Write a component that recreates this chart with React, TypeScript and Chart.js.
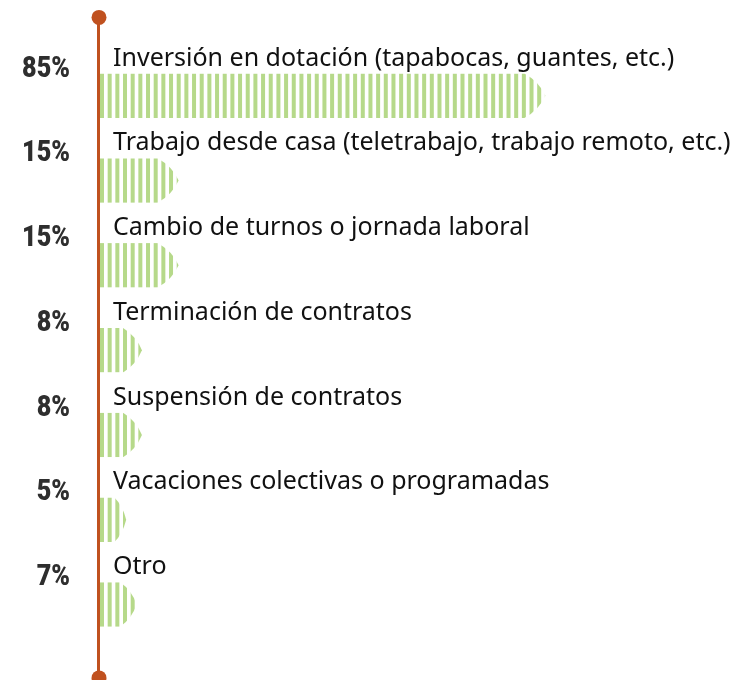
import React, { useEffect, useRef } from "react";
import { Chart, registerables } from "chart.js";

Chart.register(...registerables);

const categories = [
  "Inversión en dotación (tapabocas, guantes, etc.)",
  "Trabajo desde casa (teletrabajo, trabajo remoto, etc.)",
  "Cambio de turnos o jornada laboral",
  "Terminación de contratos",
  "Suspensión de contratos",
  "Vacaciones colectivas o programadas",
  "Otro",
];
const values = [85, 15, 15, 8, 8, 5, 7];
const valueLabels = ["85%", "15%", "15%", "8%", "8%", "5%", "7%"];

const STRIPE = "#b6d98a";
const AXIS = "#c0511f";

const decorPlugin = {
  id: "decor",
  beforeDatasetDraw(chart: any) {
    const ctx = chart.ctx;
    const meta = chart.getDatasetMeta(0);
    meta.data.forEach((bar: any) => {
      const base = bar.base;
      const tip = bar.x;
      const top = bar.y - bar.height / 2;
      const bottom = bar.y + bar.height / 2;
      const len = tip - base;
      const arrow = Math.min(21, len * 0.45);
      ctx.save();
      ctx.beginPath();
      ctx.moveTo(base, top);
      ctx.lineTo(tip - arrow, top);
      ctx.quadraticCurveTo(tip - arrow * 0.3, top + bar.height * 0.18, tip, bar.y);
      ctx.quadraticCurveTo(tip - arrow * 0.3, bottom - bar.height * 0.18, tip - arrow, bottom);
      ctx.lineTo(base, bottom);
      ctx.closePath();
      ctx.clip();
      ctx.fillStyle = STRIPE;
      for (let x = base; x < tip + 1; x += 7.67) {
        ctx.fillRect(x, top, 4, bottom - top);
      }
      ctx.restore();
    });
    return false;
  },
  afterDatasetsDraw(chart: any) {
    const ctx = chart.ctx;
    const area = chart.chartArea;
    const meta = chart.getDatasetMeta(0);
    const lineX = area.left - 1.5;
    const topY = area.top - 36;
    const botY = area.bottom + 31;
    ctx.save();
    ctx.strokeStyle = AXIS;
    ctx.lineWidth = 3;
    ctx.beginPath();
    ctx.moveTo(lineX, topY);
    ctx.lineTo(lineX, botY);
    ctx.stroke();
    ctx.fillStyle = AXIS;
    ctx.beginPath();
    ctx.arc(lineX + 0.5, topY, 7.5, 0, Math.PI * 2);
    ctx.fill();
    ctx.beginPath();
    ctx.arc(lineX + 0.5, botY, 7.5, 0, Math.PI * 2);
    ctx.fill();

    meta.data.forEach((bar: any, i: number) => {
      const top = bar.y - bar.height / 2;
      ctx.fillStyle = "#111111";
      ctx.font = "25px 'Noto Sans', 'Open Sans', sans-serif";
      ctx.textAlign = "left";
      ctx.textBaseline = "alphabetic";
      ctx.fillText(chart.data.labels[i], bar.base + 13, top - 8);
      ctx.save();
      ctx.fillStyle = "#2e2e2e";
      ctx.font = "900 30px Roboto, 'DejaVu Sans Condensed', sans-serif";
      ctx.textAlign = "right";
      ctx.translate(bar.base - 30, top + 3);
      ctx.scale(0.84, 1);
      ctx.fillText(valueLabels[i], 0, 0);
      ctx.restore();
    });
    ctx.restore();
  },
};

export default function App() {
  const ref = useRef<HTMLCanvasElement>(null);
  useEffect(() => {
    if (!ref.current) return;
    const chart = new Chart(ref.current, {
      type: "bar",
      data: {
        labels: categories,
        datasets: [
          {
            data: values,
            backgroundColor: STRIPE,
            barThickness: 44.5,
          },
        ],
      },
      options: {
        indexAxis: "y",
        animation: false,
        responsive: true,
        maintainAspectRatio: false,
        layout: { padding: { left: 100, right: 109, top: 53.4, bottom: 33.1 } },
        scales: {
          x: { display: false, min: 0, max: 100 },
          y: { display: false },
        },
        plugins: {
          legend: { display: false },
          tooltip: { enabled: false },
        },
      },
      plugins: [decorPlugin],
    });
    return () => chart.destroy();
  }, []);
  return (
    <div style={{ position: "absolute", left: 0, top: 0, width: 733, height: 680 }}>
      <canvas ref={ref} />
    </div>
  );
}
